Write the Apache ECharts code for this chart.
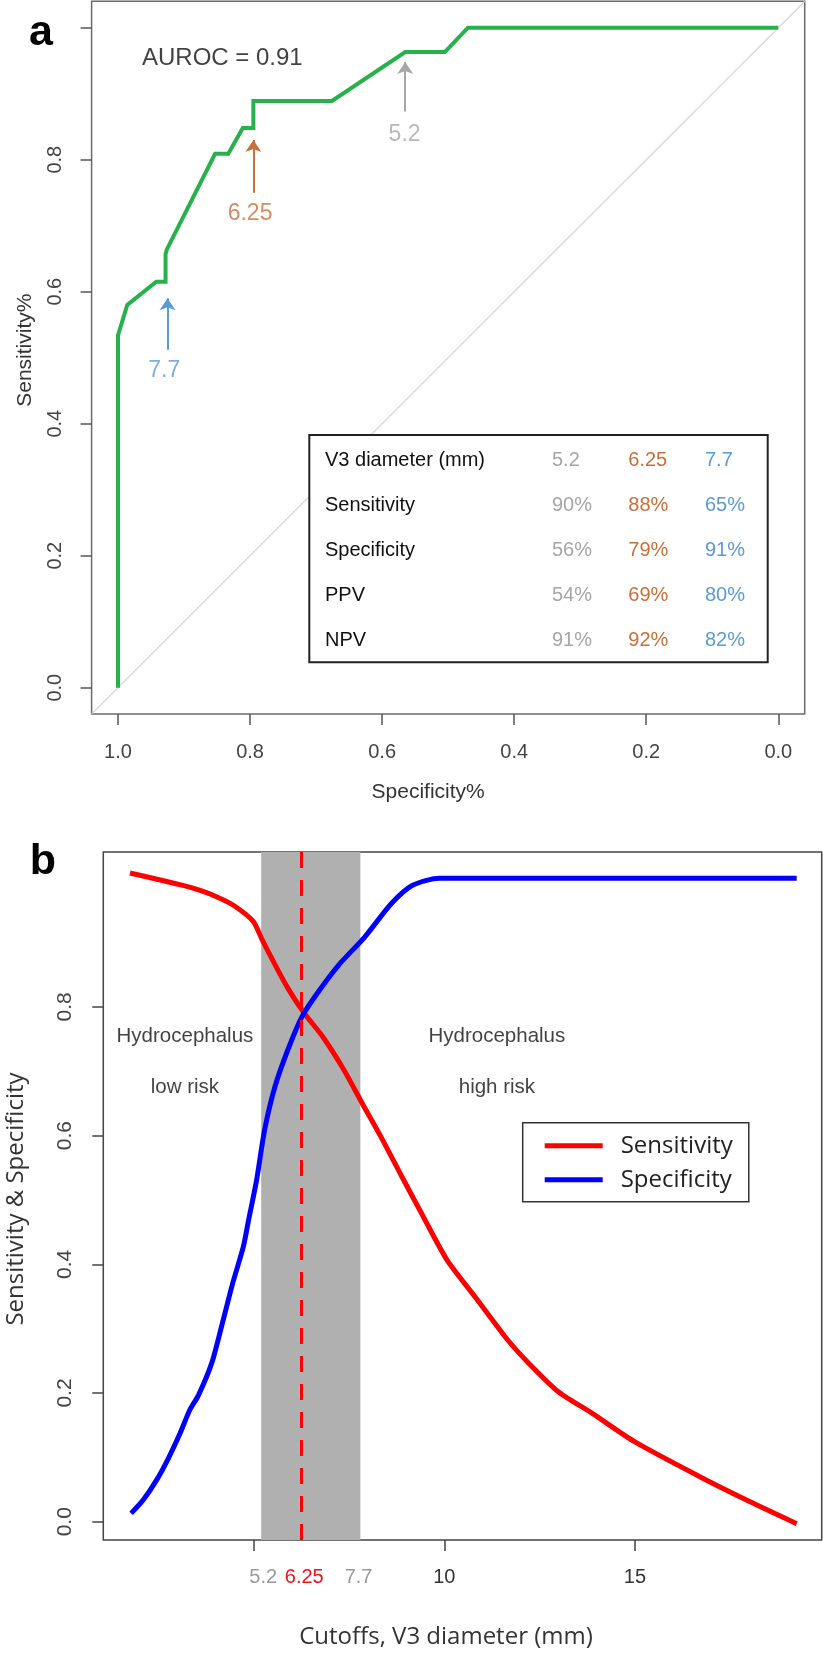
<!DOCTYPE html>
<html><head><meta charset="utf-8">
<script src="https://cdn.jsdelivr.net/npm/echarts@6/dist/echarts.min.js"></script>
<style>html,body{margin:0;padding:0;background:#fff}#c{width:826px;height:1654px}</style>
</head><body><div id="c"></div>
<script>
// ---------- Panel a: ROC curve ----------
const rocSpecificity = [1.000, 1.000, 0.986, 0.942, 0.928, 0.928, 0.926, 0.853, 0.833, 0.811, 0.795, 0.795, 0.676, 0.565, 0.505, 0.470, 0.000];
const rocSensitivity = [0.000, 0.534, 0.580, 0.615, 0.615, 0.657, 0.664, 0.809, 0.809, 0.848, 0.848, 0.889, 0.889, 0.963, 0.963, 1.000, 1.000];
const diagSpecificity = [1.04, -0.04];
const diagSensitivity = [-0.04, 1.04];
const cutoffLabels = ['5.2', '6.25', '7.7'];
const cutoffColors = ['#a6a6a6', '#c8703a', '#5b9bd5'];
const arrowSpec = [0.565, 0.795, 0.925];
const arrowTipSens = [0.948, 0.830, 0.590];
const arrowTailSens = [0.873, 0.750, 0.512];
const arrowLabelSpec = [0.566, 0.800, 0.930];
const arrowLabelSens = [0.838, 0.719, 0.480];
const aucText = 'AUROC = 0.91';
const aucPos = [0.842, 0.953];
const ticksAx = [0, 0.2, 0.4, 0.6, 0.8, 1.0];
const ticksAy = [0, 0.2, 0.4, 0.6, 0.8, 1.0];
const labelsAy = [0, 0.2, 0.4, 0.6, 0.8];
// table
const tableRowLabels = ['V3 diameter (mm)', 'Sensitivity', 'Specificity', 'PPV', 'NPV'];
const tableSensitivity = ['90%', '88%', '65%'];
const tableSpecificity = ['56%', '79%', '91%'];
const tablePPV = ['54%', '69%', '80%'];
const tableNPV = ['91%', '92%', '82%'];

// ---------- Panel b: sensitivity & specificity vs cutoff ----------
const sensCutoff = [1.76, 2.5, 3.2, 3.6, 4.0, 4.47, 4.99, 5.22, 5.56, 5.91, 6.33, 6.81, 7.37, 7.85, 8.34, 8.89, 9.45, 10.07, 10.84, 11.67, 12.22, 12.99, 13.89, 15.0, 16.7, 18.02, 19.24];
const sensValue = [1.008, 0.998, 0.988, 0.981, 0.972, 0.958, 0.933, 0.905, 0.866, 0.828, 0.790, 0.754, 0.702, 0.650, 0.598, 0.536, 0.474, 0.407, 0.347, 0.282, 0.246, 0.202, 0.168, 0.124, 0.070, 0.031, -0.003];
const specCutoff = [1.79, 2.11, 2.46, 2.77, 3.07, 3.33, 3.55, 3.90, 4.18, 4.45, 4.73, 4.87, 5.08, 5.29, 5.56, 5.91, 6.28, 6.68, 7.23, 7.92, 8.62, 9.17, 9.87, 19.24];
const specValue = [0.013, 0.034, 0.065, 0.099, 0.137, 0.174, 0.196, 0.246, 0.308, 0.370, 0.427, 0.469, 0.531, 0.609, 0.676, 0.735, 0.786, 0.822, 0.865, 0.909, 0.961, 0.989, 1.000, 1.000];
const bandRange = [5.2, 7.8];
const optimalCutoff = 6.25;
const ticksBx = [5, 10, 15];
const labelsBx = [5.2, 6.25, 7.7, 10, 15];
const grayCutoffs = [5.2, 7.7];
const ticksBy = [0, 0.2, 0.4, 0.6, 0.8];
const riskTexts = ['Hydrocephalus', 'low risk', 'Hydrocephalus', 'high risk'];
const riskX = [3.20, 3.20, 11.38, 11.38];
const riskY = [0.755, 0.675, 0.755, 0.675];

const zip = (a, b) => a.map((v, i) => [v, b[i]]);
const ARIAL = 'Liberation Sans';
const OPEN = 'Open Sans';

const chart = echarts.init(document.getElementById('c'), null, {renderer: 'canvas'});

// table graphic
const tableX = 309.3, tableY = 435, tableW = 458.4, tableH = 227.3;
const rowY0 = 460.7, rowStep = 45;
const colX = [552, 628.3, 705];
const tableValues = [cutoffLabels, tableSensitivity, tableSpecificity, tablePPV, tableNPV];
const tableEls = [{
  type: 'rect', z: 100,
  shape: {x: tableX, y: tableY, width: tableW, height: tableH},
  style: {fill: '#ffffff', stroke: '#222', lineWidth: 2}
}];
tableRowLabels.forEach((lab, r) => {
  tableEls.push({type: 'text', z: 101, style: {text: lab, x: 325, y: rowY0 + r * rowStep, fill: '#111', font: '20px "' + ARIAL + '"', align: 'left', verticalAlign: 'middle'}});
  tableValues[r].forEach((v, c) => {
    tableEls.push({type: 'text', z: 101, style: {text: v, x: colX[c], y: rowY0 + r * rowStep, fill: cutoffColors[c], font: '20px "' + ARIAL + '"', align: 'left', verticalAlign: 'middle'}});
  });
});

const option = {
  animation: false,
  backgroundColor: '#ffffff',
  grid: [
    {left: 91.6, top: 1.3, width: 713.1, height: 712.8, show: true, borderColor: '#6b6b6b', borderWidth: 1.5, backgroundColor: 'transparent', containLabel: false, outerBoundsMode: 'none'},
    {left: 103.3, top: 852, width: 718.4, height: 688, show: true, borderColor: '#444', borderWidth: 1.5, backgroundColor: 'transparent', containLabel: false, outerBoundsMode: 'none'}
  ],
  xAxis: [
    {
      type: 'value', gridIndex: 0, min: -0.04, max: 1.04, inverse: true,
      axisLine: {show: false, onZero: false}, splitLine: {show: false},
      axisTick: {show: true, customValues: ticksAx, length: 11, lineStyle: {color: '#555', width: 1.5}},
      axisLabel: {customValues: ticksAx, formatter: v => v.toFixed(1), margin: 28, fontFamily: ARIAL, fontSize: 20, color: '#444'},
      name: 'Specificity%', nameLocation: 'middle', nameGap: 68,
      nameTextStyle: {fontFamily: ARIAL, fontSize: 21, color: '#333', padding: [0, 40, 0, 0]}
    },
    {
      type: 'value', gridIndex: 1, min: 1.06, max: 19.896,
      axisLine: {show: false, onZero: false}, splitLine: {show: false},
      axisTick: {show: true, customValues: ticksBx, length: 11, lineStyle: {color: '#444', width: 1.5}},
      axisLabel: {
        customValues: labelsBx, margin: 27, fontFamily: ARIAL, fontSize: 20,
        formatter: v => {
          if (Math.abs(v - optimalCutoff) < 1e-6) return '{r|' + v + '}';
          if (grayCutoffs.some(g => Math.abs(v - g) < 1e-6)) return '{g|' + v + '}';
          return '{d|' + v + '}';
        },
        rich: {
          r: {color: '#e8141b', fontFamily: ARIAL, fontSize: 20, padding: [0, 0, 0, 6]},
          g: {color: '#9a9a9a', fontFamily: ARIAL, fontSize: 20, padding: [0, 0, 0, 4]},
          d: {color: '#333', fontFamily: ARIAL, fontSize: 20}
        }
      },
      name: 'Cutoffs, V3 diameter (mm)', nameLocation: 'middle', nameGap: 85,
      nameTextStyle: {fontFamily: OPEN, fontSize: 24, color: '#333', padding: [0, 33, 0, 0]}
    }
  ],
  yAxis: [
    {
      type: 'value', gridIndex: 0, min: -0.04, max: 1.04,
      axisLine: {show: false, onZero: false}, splitLine: {show: false},
      axisTick: {show: true, customValues: ticksAy, length: 11, lineStyle: {color: '#555', width: 1.5}},
      axisLabel: {customValues: labelsAy, formatter: v => v.toFixed(1), rotate: 90, margin: 26, fontFamily: ARIAL, fontSize: 20, color: '#444'},
      name: 'Sensitivity%', nameLocation: 'middle', nameGap: 56,
      nameTextStyle: {fontFamily: ARIAL, fontSize: 21, color: '#333', padding: [0, 0, 0, 15]}
    },
    {
      type: 'value', gridIndex: 1, min: -0.0284, max: 1.0407,
      axisLine: {show: false, onZero: false}, splitLine: {show: false},
      axisTick: {show: true, customValues: ticksBy, length: 11, lineStyle: {color: '#444', width: 1.5}},
      axisLabel: {customValues: ticksBy, formatter: v => v.toFixed(1), rotate: 90, margin: 28, fontFamily: ARIAL, fontSize: 21, color: '#444'},
      name: 'Sensitivity & Specificity', nameLocation: 'middle', nameGap: 75,
      nameTextStyle: {fontFamily: OPEN, fontSize: 24, color: '#333', padding: [0, 6, 0, 0]}
    }
  ],
  legend: {
    data: ['Sensitivity', 'Specificity'],
    orient: 'vertical', left: 522.7, top: 1122.7,
    padding: [11, 16, 10, 22],
    itemWidth: 58, itemHeight: 5, itemGap: 10, icon: 'rect',
    borderColor: '#333', borderWidth: 1.5, backgroundColor: '#fff',
    selectedMode: false,
    textStyle: {fontFamily: OPEN, fontSize: 24, color: '#222', padding: [0, 0, 0, 13], lineHeight: 24}
  },
  series: [
    {
      name: 'diagonal', type: 'line', xAxisIndex: 0, yAxisIndex: 0,
      data: zip(diagSpecificity, diagSensitivity), showSymbol: false, silent: true,
      lineStyle: {color: '#d2d2d2', width: 1.2}, z: 2
    },
    {
      name: 'ROC', type: 'line', xAxisIndex: 0, yAxisIndex: 0,
      data: zip(rocSpecificity, rocSensitivity), showSymbol: false, silent: true,
      lineStyle: {color: '#27b14c', width: 4, join: 'miter'}, z: 3
    },
    {
      name: 'arrows', type: 'lines', coordinateSystem: 'cartesian2d', xAxisIndex: 0, yAxisIndex: 0,
      symbol: ['none', 'arrow'], symbolSize: [8, 12], silent: true, z: 4,
      data: arrowSpec.map((s, i) => ({coords: [[s, arrowTailSens[i]], [s, arrowTipSens[i]]], lineStyle: {color: cutoffColors[i], width: 2, opacity: 1}}))
    },
    {
      name: 'annotations a', type: 'scatter', xAxisIndex: 0, yAxisIndex: 0, symbolSize: 0, silent: true, z: 5,
      label: {show: true, position: 'inside', formatter: p => p.data.text, fontFamily: ARIAL, fontSize: 23},
      data: arrowLabelSpec.map((s, i) => ({value: [s, arrowLabelSens[i]], text: cutoffLabels[i], label: {color: cutoffColors[i]}}))
        .concat([{value: aucPos, text: aucText, label: {color: '#111', fontSize: 24}}])
    },
    {
      name: 'Sensitivity', type: 'line', xAxisIndex: 1, yAxisIndex: 1,
      data: zip(sensCutoff, sensValue), showSymbol: false, smooth: 0.25, silent: true,
      color: '#ff0000', lineStyle: {color: '#ff0000', width: 5}, z: 3,
      markArea: {silent: true, itemStyle: {color: '#b0b0b0', opacity: 1}, data: [[{xAxis: bandRange[0]}, {xAxis: bandRange[1]}]]},
      markLine: {silent: true, symbol: 'none', label: {show: false}, animation: false,
        lineStyle: {color: '#ff0000', type: [16, 12], width: 3}, data: [{xAxis: optimalCutoff}]}
    },
    {
      name: 'Specificity', type: 'line', xAxisIndex: 1, yAxisIndex: 1,
      data: zip(specCutoff, specValue), showSymbol: false, smooth: 0.25, silent: true,
      color: '#0000ff', lineStyle: {color: '#0000ff', width: 5}, z: 3
    },
    {
      name: 'annotations b', type: 'scatter', xAxisIndex: 1, yAxisIndex: 1, symbolSize: 0, silent: true, z: 5,
      label: {show: true, position: 'inside', formatter: p => p.data.text, fontFamily: ARIAL, fontSize: 20.5, color: '#111'},
      data: riskTexts.map((t, i) => ({value: [riskX[i], riskY[i]], text: t}))
    }
  ],
  graphic: [
    {type: 'text', z: 100, style: {text: 'a', x: 41, y: 33, fill: '#000', font: 'bold 43px "' + ARIAL + '"', align: 'center', verticalAlign: 'middle'}},
    {type: 'text', z: 100, style: {text: 'b', x: 43, y: 862, fill: '#000', font: 'bold 43px "' + ARIAL + '"', align: 'center', verticalAlign: 'middle'}}
  ].concat(tableEls)
};
chart.setOption(option);
</script>
</body></html>
